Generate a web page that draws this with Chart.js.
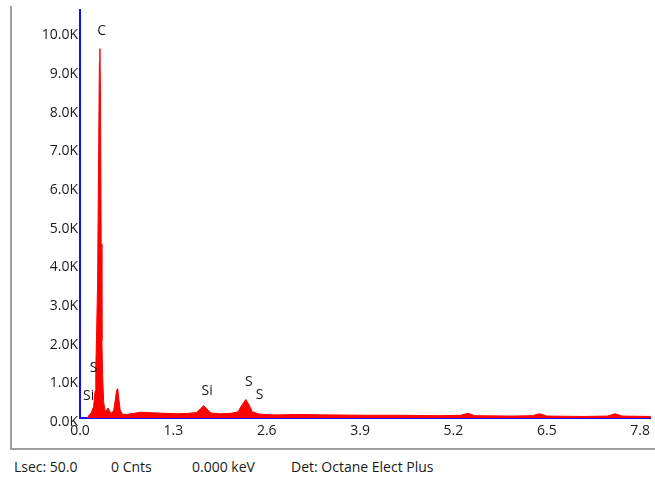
<!DOCTYPE html>
<html>
<head>
<meta charset="utf-8">
<script src="https://cdn.jsdelivr.net/npm/chart.js@4/dist/chart.umd.min.js"></script>
<style>
  body { margin: 0; background: #fff; width: 655px; height: 481px; overflow: hidden; font-family: "Open Sans", sans-serif; }
  #frame { position: absolute; left: 10px; top: 6px; width: 650px; height: 442px; border-left: 2px solid #a0a0a0; border-bottom: 2px solid #a0a0a0; }
  #wrap { position: absolute; left: 0; top: 0; width: 655px; height: 450px; }
  .info { position: absolute; top: 457px; font-size: 14px; color: #1a1a1a; }
</style>
</head>
<body>
<div id="frame"></div>
<div id="wrap"><canvas id="myChart" width="655" height="450"></canvas></div>
<div class="info" style="left:14px">Lsec: 50.0</div>
<div class="info" style="left:111px">0 Cnts</div>
<div class="info" style="left:192px">0.000 keV</div>
<div class="info" style="left:291px">Det: Octane Elect Plus</div>
<script>
// energy (keV) and counts (K)
const energy = [0.10, 0.13, 0.16, 0.19, 0.21, 0.22, 0.23, 0.245, 0.26, 0.27, 0.277, 0.285, 0.295, 0.305, 0.315, 0.33,
  0.35, 0.37, 0.39, 0.41, 0.44, 0.47, 0.49, 0.51, 0.525, 0.54, 0.56, 0.59, 0.65, 0.75, 0.85, 0.95, 1.05, 1.2, 1.35,
  1.5, 1.62, 1.68, 1.72, 1.76, 1.82, 1.95, 2.1, 2.2, 2.26, 2.31, 2.35, 2.4, 2.5, 2.7, 3.0, 3.5, 4.0, 4.5, 5.0, 5.3,
  5.4, 5.5, 6.0, 6.3, 6.4, 6.5, 7.0, 7.35, 7.45, 7.55, 7.95];
const counts = [0.0, 0.08, 0.15, 0.3, 0.7, 1.3, 2.1, 3.5, 7.0, 9.2, 9.55, 8.5, 4.5, 2.0, 1.1, 0.4,
  0.18, 0.2, 0.26, 0.18, 0.12, 0.2, 0.45, 0.72, 0.76, 0.5, 0.2, 0.1, 0.09, 0.12, 0.15, 0.14, 0.13, 0.12, 0.11,
  0.12, 0.14, 0.24, 0.32, 0.25, 0.13, 0.11, 0.12, 0.16, 0.35, 0.48, 0.35, 0.16, 0.1, 0.08, 0.09, 0.08, 0.07, 0.07, 0.06, 0.07,
  0.12, 0.06, 0.05, 0.06, 0.11, 0.05, 0.04, 0.05, 0.11, 0.05, 0.04];
const xTicks = [0.0, 1.3, 2.6, 3.9, 5.2, 6.5, 7.8];
const yTicks = [0, 1, 2, 3, 4, 5, 6, 7, 8, 9, 10];
// element labels: [text, keV, K]
const peakLabels = [["C", 0.30, 10.0], ["S", 0.19, 1.3], ["Si", 0.12, 0.56], ["Si", 1.77, 0.71], ["S", 2.35, 0.94], ["S", 2.5, 0.59]];

const points = energy.map((e, i) => ({ x: e, y: counts[i] }));

const labelPlugin = {
  id: "peakLabels",
  afterDatasetsDraw(chart) {
    const ctx = chart.ctx;
    ctx.save();
    ctx.font = "14px 'Open Sans', sans-serif";
    ctx.fillStyle = "#1a1a1a";
    ctx.textAlign = "center";
    ctx.textBaseline = "middle";
    peakLabels.forEach((l) => {
      ctx.fillText(l[0], chart.scales.x.getPixelForValue(l[1]), chart.scales.y.getPixelForValue(l[2]));
    });
    ctx.restore();
  }
};

var ctx = document.getElementById("myChart").getContext("2d");
var chart = new Chart(ctx, {
  type: "line",
  data: {
    datasets: [{
      data: points,
      borderColor: "rgb(255, 0, 0)",
      backgroundColor: "rgb(255, 0, 0)",
      borderWidth: 1,
      pointRadius: 0,
      fill: "origin",
      tension: 0
    }]
  },
  options: {
    responsive: false,
    animation: false,
    devicePixelRatio: 1,
    layout: { padding: { top: 5, right: 0, left: 0, bottom: 0 } },
    plugins: { legend: { display: false }, tooltip: { enabled: false } },
    scales: {
      x: {
        type: "linear",
        min: 0,
        max: 7.95,
        afterFit: (s) => { s.height = 32; },
        afterBuildTicks: (s) => { s.ticks = xTicks.map((v) => ({ value: v })); },
        grid: { display: false, drawTicks: false },
        border: { color: "#1010ff", width: 2 },
        ticks: {
          padding: 5,
          color: "#1a1a1a",
          font: { family: "'Open Sans', sans-serif", size: 14 },
          maxRotation: 0,
          callback: (v) => v.toFixed(1)
        }
      },
      y: {
        min: 0,
        max: 10.54,
        afterFit: (s) => { s.width = 80; },
        afterBuildTicks: (s) => { s.ticks = yTicks.map((v) => ({ value: v })); },
        grid: { display: false, drawTicks: false },
        border: { color: "#1010ff", width: 2 },
        ticks: {
          padding: 2,
          labelOffset: 4,
          color: "#1a1a1a",
          font: { family: "'Open Sans', sans-serif", size: 14 },
          callback: (v) => v.toFixed(1) + "K"
        }
      }
    }
  },
  plugins: [labelPlugin]
});
</script>
</body>
</html>
